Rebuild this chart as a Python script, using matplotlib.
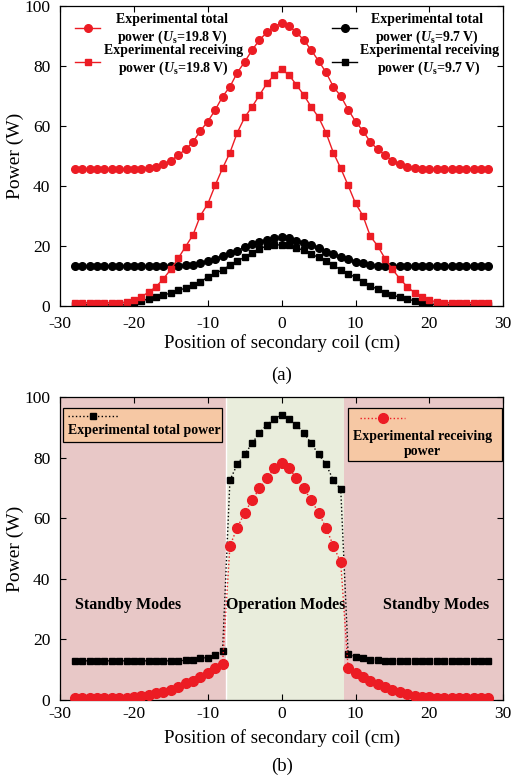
import matplotlib
matplotlib.use("Agg")
import matplotlib.pyplot as plt
from matplotlib.patches import Rectangle
from matplotlib.lines import Line2D

plt.rcParams['font.family'] = ['Liberation Serif', 'DejaVu Serif']
plt.rcParams['mathtext.fontset'] = 'custom'
plt.rcParams['mathtext.rm'] = 'Liberation Serif:bold'
plt.rcParams['mathtext.it'] = 'Liberation Serif:italic:bold'
plt.rcParams['mathtext.bf'] = 'Liberation Serif:bold'
plt.rcParams['axes.unicode_minus'] = False

RED = '#ec1c24'

# secondary coil position (cm)
position = [-28, -27, -26, -25, -24, -23, -22, -21, -20, -19, -18, -17, -16, -15,
            -14, -13, -12, -11, -10, -9, -8, -7, -6, -5, -4, -3, -2, -1, 0,
            1, 2, 3, 4, 5, 6, 7, 8, 9, 10, 11, 12, 13, 14, 15, 16, 17, 18, 19,
            20, 21, 22, 23, 24, 25, 26, 27, 28]

# (a) Us = 19.8 V
total_198 = [45.6, 45.6, 45.6, 45.6, 45.6, 45.6, 45.6, 45.6, 45.6, 45.8, 46.1, 46.4,
             47.2, 48.4, 50.3, 52.2, 54.7, 58.4, 61.5, 65.3, 69.8, 73.1, 77.8, 81.4,
             85.3, 88.7, 91.2, 93.1, 94.3, 93.3, 91.2, 88.7, 85.3, 81.7, 77.9, 73.1,
             70.0, 65.5, 61.5, 58.4, 54.7, 52.2, 50.3, 48.4, 47.2, 46.4, 46.1, 45.8,
             45.6, 45.6, 45.6, 45.6, 45.6, 45.6, 45.6, 45.6, 45.6]
recv_198 = [1.1, 1.1, 1.1, 1.1, 1.1, 1.1, 1.1, 1.3, 2.0, 3.1, 4.6, 6.4, 9.1, 12.2,
            15.9, 19.8, 23.7, 30.1, 34.0, 40.2, 45.9, 51.1, 57.8, 62.9, 66.4, 70.3,
            74.2, 77.0, 78.9, 77.0, 73.7, 70.3, 66.4, 62.9, 57.8, 51.1, 45.9, 40.2,
            34.2, 30.1, 23.3, 20.0, 15.8, 12.2, 9.1, 6.4, 4.4, 3.1, 2.0, 1.3, 1.1,
            1.1, 1.1, 1.1, 1.1, 1.1, 1.1]
# (a) Us = 9.7 V
total_97 = [13.3, 13.3, 13.3, 13.3, 13.3, 13.3, 13.3, 13.3, 13.3, 13.3, 13.3, 13.3,
            13.3, 13.3, 13.3, 13.6, 13.8, 14.2, 14.9, 15.8, 16.7, 17.6, 18.4, 19.6,
            20.7, 21.3, 22.0, 22.6, 22.9, 22.6, 21.8, 21.1, 20.3, 19.4, 18.1, 17.3,
            16.4, 15.6, 14.7, 14.2, 13.8, 13.4, 13.3, 13.3, 13.3, 13.3, 13.3, 13.3,
            13.3, 13.3, 13.3, 13.3, 13.3, 13.3, 13.3, 13.3, 13.3]
recv_97 = [0.4, 0.4, 0.4, 0.4, 0.4, 0.4, 0.4, 0.4, 1.1, 1.8, 2.3, 3.1, 3.8, 4.2,
           5.3, 5.9, 7.0, 8.1, 9.6, 10.9, 12.0, 13.6, 15.1, 16.2, 17.8, 19.1, 20.0,
           20.3, 20.4, 20.3, 19.2, 18.7, 17.3, 16.2, 15.1, 13.6, 12.0, 10.7, 9.6,
           8.1, 6.7, 5.6, 4.4, 3.7, 2.9, 2.2, 1.8, 1.1, 0.7, 0.4, 0.4, 0.4, 0.4,
           0.4, 0.4, 0.4, 0.4]

# (b) operation / standby experiment
total_b = [12.8, 12.8, 12.8, 12.8, 12.8, 12.8, 12.8, 12.8, 12.8, 12.8, 12.8, 12.8,
           12.8, 12.8, 12.8, 13.0, 13.2, 13.7, 13.9, 14.9, 16.0, 72.6, 77.9, 81.2,
           84.8, 88.3, 90.9, 93.0, 94.1, 93.0, 90.9, 88.3, 84.8, 81.2, 77.9, 72.6,
           69.6, 15.0, 14.0, 13.6, 13.2, 13.0, 12.8, 12.8, 12.8, 12.8, 12.8, 12.8,
           12.8, 12.8, 12.8, 12.8, 12.8, 12.8, 12.8, 12.8, 12.8]
recv_b = [0.4, 0.4, 0.4, 0.4, 0.4, 0.4, 0.4, 0.4, 0.7, 1.1, 1.4, 2.0, 2.5, 3.3,
          4.2, 5.3, 6.2, 7.5, 8.8, 10.3, 11.7, 50.9, 56.9, 61.9, 66.0, 69.9, 73.3,
          76.5, 78.2, 76.6, 73.3, 69.9, 66.0, 61.9, 56.9, 50.9, 45.4, 10.3, 8.8,
          7.5, 6.2, 5.0, 4.2, 3.3, 2.5, 1.8, 1.3, 0.9, 0.7, 0.4, 0.4, 0.4, 0.4,
          0.4, 0.4, 0.4, 0.4]

# mode regions (cm)
standby_left = (-30, -7.5)
operation = (-7.5, 8.5)
standby_right = (8.5, 30)

fig = plt.figure(figsize=(5.13, 7.8), dpi=100)


def style_axes(ax, xpad, labelpad):
    ax.set_xlim(-30, 30)
    ax.set_ylim(0, 100)
    ax.set_xticks([-30, -20, -10, 0, 10, 20, 30])
    ax.set_yticks([0, 20, 40, 60, 80, 100])
    ax.tick_params(direction='in', top=True, right=True, length=4, width=0.8,
                   labelsize=12.5)
    ax.tick_params(axis='x', pad=xpad)
    ax.tick_params(axis='y', pad=7)
    ax.set_xlabel('Position of secondary coil (cm)', fontsize=13.5, labelpad=labelpad)
    ax.set_ylabel('Power (W)', fontsize=14, labelpad=0)
    for s in ax.spines.values():
        s.set_linewidth(0.9)


def legend_entry(ax, x0, x1, y, tx, ty, color, marker, ms, ls, label):
    # handle drawn in axes coords, label centred to the right
    ax.add_line(Line2D([x0, x1], [y, y], transform=ax.transAxes, color=color,
                       ls=ls, lw=1, zorder=5))
    ax.add_line(Line2D([(x0 + x1) / 2], [y], transform=ax.transAxes, color=color,
                       marker=marker, ms=ms, zorder=5))
    ax.text(tx, ty, label, transform=ax.transAxes, ha='center', va='center',
            multialignment='center', fontsize=10, fontweight='bold', zorder=5)


# ---------- (a) ----------
ax1 = fig.add_axes([0.117, 0.6077, 0.864, 0.3846])
ax1.plot(position, recv_97, color='black', marker='s', ms=5, lw=1)
ax1.plot(position, total_97, color='black', marker='o', ms=5.5, lw=1)
ax1.plot(position, recv_198, color=RED, marker='s', ms=5, lw=1)
ax1.plot(position, total_198, color=RED, marker='o', ms=5.5, lw=1)
style_axes(ax1, xpad=7, labelpad=2)

legend_entry(ax1, 0.034, 0.090, 0.926, 0.253, 0.922, RED, 'o', 5.5, '-',
             'Experimental total\npower ($U_\\mathrm{s}$=19.8 V)')
legend_entry(ax1, 0.034, 0.090, 0.814, 0.256, 0.818, RED, 's', 5, '-',
             'Experimental receiving\npower ($U_\\mathrm{s}$=19.8 V)')
legend_entry(ax1, 0.614, 0.670, 0.926, 0.828, 0.922, 'black', 'o', 5.5, '-',
             'Experimental total\npower ($U_\\mathrm{s}$=9.7 V)')
legend_entry(ax1, 0.614, 0.670, 0.814, 0.833, 0.818, 'black', 's', 5, '-',
             'Experimental receiving\npower ($U_\\mathrm{s}$=9.7 V)')

fig.text(0.5 * (0.117 + 0.981), 1 - 375 / 780, '(a)', ha='center', va='center',
         fontsize=13.5)

# ---------- (b) ----------
ax2 = fig.add_axes([0.117, 0.1032, 0.864, 0.3872])
ax2.axvspan(*standby_left, color='#e8c8c7', lw=0, zorder=0)
ax2.axvspan(*operation, color='#e9eddc', lw=0, zorder=0)
ax2.axvspan(*standby_right, color='#e8c8c7', lw=0, zorder=0)
ax2.axvline(operation[0], color='white', lw=1, zorder=0.5)

ax2.plot(position, total_b, color='black', ls=':', lw=1, marker='s', ms=5, zorder=3)
ax2.plot(position, recv_b, color=RED, ls=':', lw=1, marker='o', ms=7, zorder=3)
style_axes(ax2, xpad=4.5, labelpad=5.5)

mode_kw = dict(ha='center', va='center', fontsize=11.5, fontweight='bold')
ax2.text(-20.8, 31.3, 'Standby Modes', **mode_kw)
ax2.text(0.5, 31.3, 'Operation Modes', **mode_kw)
ax2.text(20.9, 31.3, 'Standby Modes', **mode_kw)

# legend boxes (handle above label)
box_color = '#f6c8a4'
ax2.add_patch(Rectangle((0.007, 0.853), 0.359, 0.112, transform=ax2.transAxes,
                        facecolor=box_color, edgecolor='black', lw=0.9, zorder=4))
legend_entry(ax2, 0.018, 0.132, 0.94, 0.19, 0.89, 'black', 's', 5, ':',
             'Experimental total power')

ax2.add_patch(Rectangle((0.650, 0.790), 0.348, 0.175, transform=ax2.transAxes,
                        facecolor=box_color, edgecolor='black', lw=0.9, zorder=4))
legend_entry(ax2, 0.677, 0.779, 0.932, 0.817, 0.847, RED, 'o', 7, ':',
             'Experimental receiving\npower')

fig.text(0.5 * (0.117 + 0.981), 1 - 766 / 780, '(b)', ha='center', va='center',
         fontsize=13.5)

fig.savefig('out.png', dpi=100)
